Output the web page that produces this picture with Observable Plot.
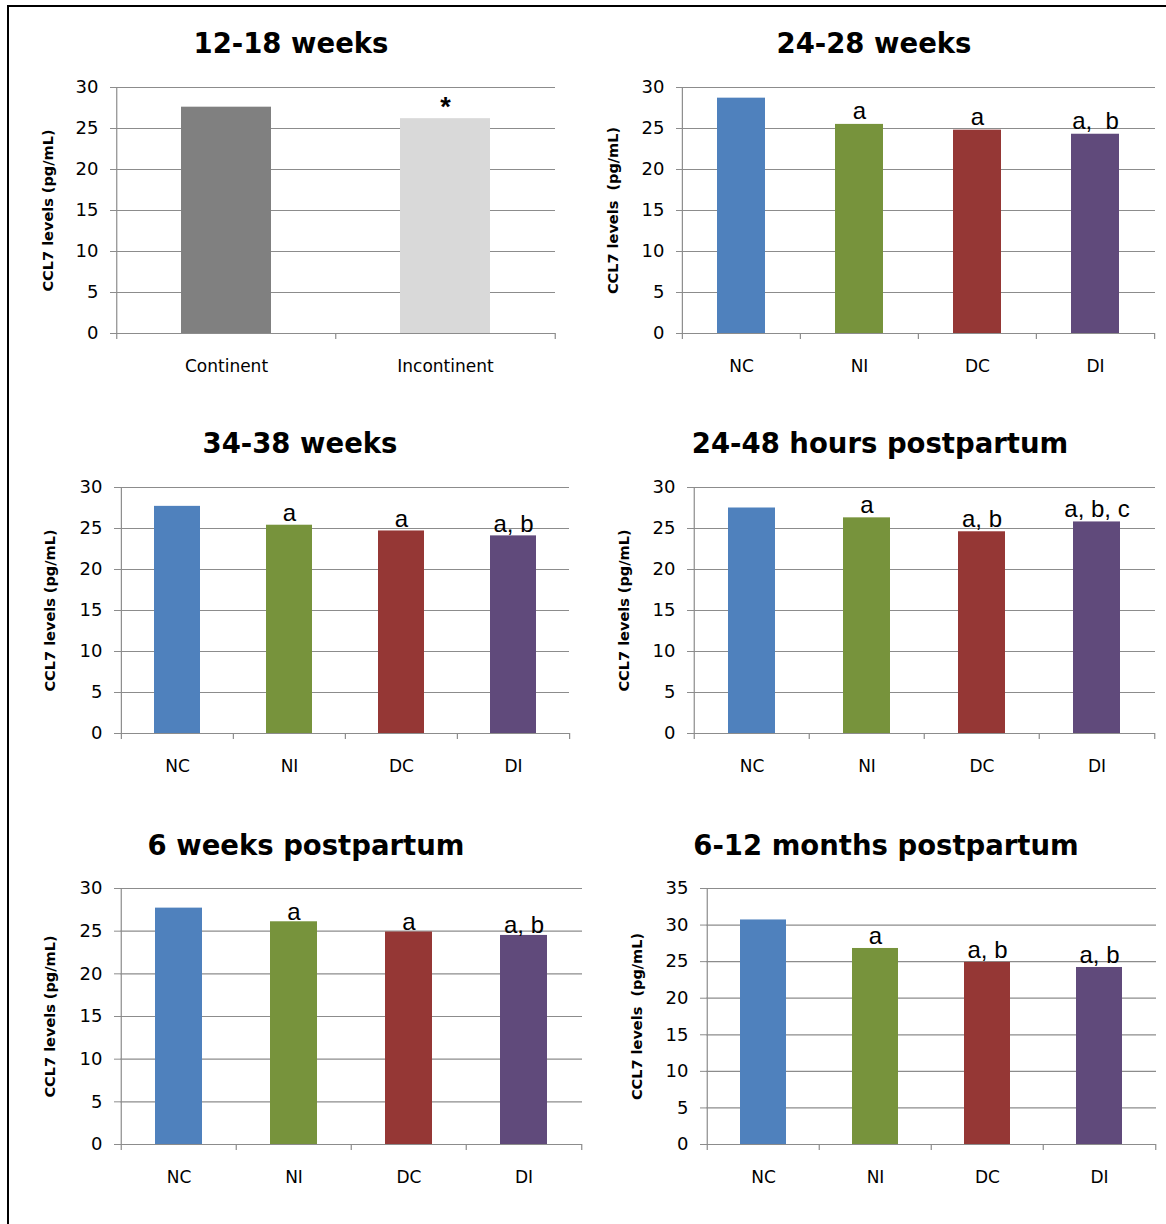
<!DOCTYPE html>
<html>
<head>
<meta charset="utf-8">
<script src="https://cdn.jsdelivr.net/npm/d3@7"></script>
<script src="https://cdn.jsdelivr.net/npm/@observablehq/plot@0.6"></script>
<style>
  html, body { margin: 0; padding: 0; background: #fff; }
  body { width: 1166px; height: 1224px; overflow: hidden; position: relative; }
  #border { position: absolute; left: 7px; top: 5px; width: 1300px; height: 1400px;
            border-top: 2px solid #000; border-left: 2px solid #000; }
  .title { position: absolute; width: 600px; text-align: center; white-space: nowrap;
           font-family: "DejaVu Sans", sans-serif; font-weight: bold; font-size: 27.5px;
           line-height: 1; color: #000; }
  .panel { position: absolute; }
</style>
</head>
<body>
<div id="border"></div>
<script>
// ---------- data ----------
const groups = ["NC", "NI", "DC", "DI"];
const groupColors = ["#4f81bd", "#77933c", "#953735", "#604a7b"];
const continenceCats = ["Continent", "Incontinent"];
const continenceColors = ["#808080", "#d9d9d9"];
const yLabel = "CCL7 levels (pg/mL)";
const yLabelWide = "CCL7 levels\u00a0 (pg/mL)";

const title12_18 = "12-18 weeks";
const vals12_18 = [27.6, 26.2];
const notes12_18 = ["", "*"];

const title24_28 = "24-28 weeks";
const vals24_28 = [28.7, 25.5, 24.8, 24.3];
const notes24_28 = ["", "a", "a", "a,\u00a0 b"];

const title34_38 = "34-38 weeks";
const vals34_38 = [27.7, 25.4, 24.7, 24.1];
const notes34_38 = ["", "a", "a", "a, b"];

const title24_48h = "24-48 hours postpartum";
const vals24_48h = [27.5, 26.3, 24.6, 25.8];
const notes24_48h = ["", "a", "a, b", "a, b, c"];

const title6w = "6 weeks postpartum";
const vals6w = [27.7, 26.1, 24.9, 24.5];
const notes6w = ["", "a", "a", "a, b"];

const title6_12m = "6-12 months postpartum";
const vals6_12m = [30.7, 26.8, 24.9, 24.2];
const notes6_12m = ["", "a", "a, b", "a, b"];

const yTicks30 = [0, 5, 10, 15, 20, 25, 30];
const yTicks35 = [0, 5, 10, 15, 20, 25, 30, 35];

// ---------- drawing ----------
const gridColor = "#8c8c8c";
const tickFont = "DejaVu Sans, sans-serif";
const noteFont = "Liberation Sans, Arial, sans-serif";

function addTitle(text, cx, baseline) {
  const d = document.createElement("div");
  d.className = "title";
  d.textContent = text;
  d.style.left = (cx - 300) + "px";
  d.style.top = (baseline - 23.3) + "px";
  document.body.appendChild(d);
}

function panel(cfg) {
  const {cats, vals, notes, colors, ticks, label, frame, noteGap, labelOffset,
         noteSize = 24, noteWeight = "normal"} = cfg;
  const mL = 90, mT = 20, mR = 6, mB = 50;
  const plotW = frame.r - frame.l, plotH = frame.b - frame.t;
  const W = mL + plotW + mR, H = mT + plotH + mB;
  const step = plotW / cats.length;
  const ymax = ticks[ticks.length - 1];
  const data = cats.map((c, i) => ({c, v: vals[i], note: notes[i], color: colors[i]}));
  const chart = Plot.plot({
    width: W, height: H,
    marginLeft: mL, marginTop: mT, marginRight: mR, marginBottom: mB,
    style: {background: "transparent", fontFamily: tickFont, color: "#000", overflow: "visible"},
    x: {domain: cats, paddingInner: 0.59, paddingOuter: 0.295, label: null},
    y: {domain: [0, ymax], label: null},
    color: {type: "identity"},
    marks: [
      Plot.gridY(ticks, {stroke: gridColor, strokeOpacity: 1, strokeWidth: 1.2}),
      Plot.ruleX([cats[0]], {y1: 0, y2: ymax, dx: -step / 2, stroke: gridColor, strokeWidth: 1.2}),
      Plot.ruleX(cats, {y1: 0, y2: 0, insetBottom: -6, dx: -step / 2, stroke: gridColor, strokeWidth: 1.2}),
      Plot.ruleX([cats[cats.length - 1]], {y1: 0, y2: 0, insetBottom: -6, dx: step / 2, stroke: gridColor, strokeWidth: 1.2}),
      Plot.barY(data, {x: "c", y: "v", fill: "color"}),
      Plot.ruleY([0], {stroke: gridColor, strokeWidth: 1.2}),
      Plot.axisY(ticks, {tickSize: 6, tickPadding: 12, stroke: gridColor, fill: "#000",
                         fontSize: 18, fontFamily: tickFont}),
      Plot.axisX({tickSize: 0, tickPadding: 26, fill: "#000", fontSize: 17, fontFamily: tickFont}),
      Plot.text(data, {x: "c", y: "v", text: "note", lineAnchor: "bottom", dy: -noteGap,
                       fontFamily: noteFont, fontSize: noteSize, fontWeight: noteWeight, fill: "#000"}),
      Plot.text([label], {frameAnchor: "left", textAnchor: "middle", lineAnchor: "middle",
                          rotate: -90, dx: -labelOffset,
                          fontWeight: "bold", fontSize: 14.5, fontFamily: tickFont, fill: "#000"})
    ]
  });
  const wrap = document.createElement("div");
  wrap.className = "panel";
  wrap.style.left = (frame.l - mL) + "px";
  wrap.style.top = (frame.t - mT) + "px";
  wrap.appendChild(chart);
  document.body.appendChild(wrap);
}

addTitle(title12_18, 291, 53);
panel({cats: continenceCats, vals: vals12_18, notes: notes12_18, colors: continenceColors,
       ticks: yTicks30, label: yLabel, frame: {l: 116, r: 555, t: 87, b: 333},
       noteGap: 3, labelOffset: 68, noteSize: 27, noteWeight: "bold"});

addTitle(title24_28, 874, 53);
panel({cats: groups, vals: vals24_28, notes: notes24_28, colors: groupColors,
       ticks: yTicks30, label: yLabelWide, frame: {l: 682, r: 1155, t: 87, b: 333},
       noteGap: 5, labelOffset: 69});

addTitle(title34_38, 300, 453);
panel({cats: groups, vals: vals34_38, notes: notes34_38, colors: groupColors,
       ticks: yTicks30, label: yLabel, frame: {l: 120, r: 569, t: 487, b: 733},
       noteGap: 4, labelOffset: 70});

addTitle(title24_48h, 880, 453);
panel({cats: groups, vals: vals24_48h, notes: notes24_48h, colors: groupColors,
       ticks: yTicks30, label: yLabel, frame: {l: 693, r: 1155, t: 487, b: 733},
       noteGap: 5, labelOffset: 69});

addTitle(title6w, 306, 855);
panel({cats: groups, vals: vals6w, notes: notes6w, colors: groupColors,
       ticks: yTicks30, label: yLabel, frame: {l: 120, r: 582, t: 888, b: 1144},
       noteGap: 2, labelOffset: 70});

addTitle(title6_12m, 886, 855);
panel({cats: groups, vals: vals6_12m, notes: notes6_12m, colors: groupColors,
       ticks: yTicks35, label: yLabelWide, frame: {l: 706, r: 1156, t: 888, b: 1144},
       noteGap: 4, labelOffset: 69});
</script>
</body>
</html>
